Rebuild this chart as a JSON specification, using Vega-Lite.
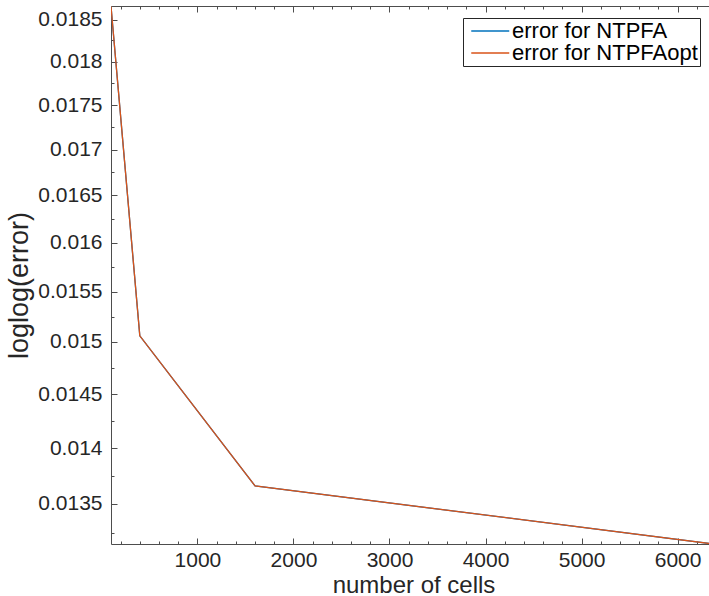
{
  "$schema": "https://vega.github.io/schema/vega-lite/v6.json",
  "autosize": {"type": "none"},
  "padding": {"left": 111, "top": 6, "right": 0, "bottom": 52},
  "width": 605,
  "height": 538,
  "background": "white",
  "config": {
    "view": {"stroke": null},
    "font": "Liberation Sans",
    "axis": {
      "labelFont": "Liberation Sans",
      "titleFont": "Liberation Sans",
      "labelColor": "#262626",
      "titleColor": "#262626",
      "domainColor": "#4d4d4d",
      "tickColor": "#4d4d4d",
      "domainWidth": 1,
      "tickWidth": 1,
      "grid": false,
      "labelFontSize": 21,
      "titleFontWeight": "normal",
      "labelOverlap": false,
      "labelFlush": false,
      "labelBound": false
    }
  },
  "data": {
    "values": [
      {"method": "error for NTPFA", "cells": 100, "error": 0.01866},
      {"method": "error for NTPFA", "cells": 400, "error": 0.01506},
      {"method": "error for NTPFA", "cells": 1600, "error": 0.01366},
      {"method": "error for NTPFA", "cells": 6400, "error": 0.01315},
      {"method": "error for NTPFAopt", "cells": 100, "error": 0.01866},
      {"method": "error for NTPFAopt", "cells": 400, "error": 0.01506},
      {"method": "error for NTPFAopt", "cells": 1600, "error": 0.01366},
      {"method": "error for NTPFAopt", "cells": 6400, "error": 0.01315}
    ]
  },
  "layer": [
    {
      "mark": {"type": "line", "strokeWidth": 1.3, "clip": true},
      "encoding": {
        "x": {
          "field": "cells",
          "type": "quantitative",
          "scale": {"domain": [100, 6400], "nice": false, "zero": false},
          "axis": {
            "orient": "bottom",
            "title": "number of cells",
            "titleFontSize": 24,
            "titlePadding": 0,
            "format": "d",
            "values": [200, 400, 600, 800, 1000, 1200, 1400, 1600, 1800, 2000, 2200, 2400, 2600, 2800, 3000, 3200, 3400, 3600, 3800, 4000, 4200, 4400, 4600, 4800, 5000, 5200, 5400, 5600, 5800, 6000, 6200],
            "labelExpr": "datum.value % 1000 === 0 ? datum.label : ''",
            "tickSize": {"condition": {"test": "datum.value % 1000 === 0", "value": -6}, "value": -3},
            "labelPadding": 11
          }
        },
        "y": {
          "field": "error",
          "type": "quantitative",
          "scale": {"type": "log", "domain": [0.013153, 0.018664], "nice": false, "zero": false},
          "axis": {
            "orient": "left",
            "title": "loglog(error)",
            "titleFontSize": 27,
            "titlePadding": 4,
            "titleY": 279,
            "format": "~g",
            "values": [0.01325, 0.0135, 0.01375, 0.014, 0.01425, 0.0145, 0.01475, 0.015, 0.01525, 0.0155, 0.01575, 0.016, 0.01625, 0.0165, 0.01675, 0.017, 0.01725, 0.0175, 0.01775, 0.018, 0.01825, 0.0185],
            "labelExpr": "round(datum.value * 20000) % 10 === 0 ? datum.label : ''",
            "tickSize": {"condition": {"test": "round(datum.value * 20000) % 10 === 0", "value": -6}, "value": -3},
            "labelPadding": 15
          }
        },
        "color": {
          "field": "method",
          "type": "nominal",
          "scale": {"domain": ["error for NTPFA", "error for NTPFAopt"], "range": ["#0072BD", "#D95319"]},
          "legend": {
            "orient": "none",
            "legendX": 352,
            "legendY": 12,
            "title": null,
            "strokeColor": "#262626",
            "fillColor": "white",
            "padding": 2,
            "symbolType": "M-0.5,0H3.5",
            "symbolSize": 361,
            "symbolStrokeWidth": 1.5,
            "labelFont": "Liberation Sans",
            "labelFontSize": 22,
            "labelLimit": 400,
            "labelColor": "#000000",
            "labelOffset": 25,
            "rowPadding": -8
          }
        }
      }
    },
    {
      "mark": {"type": "line", "opacity": 0},
      "encoding": {
        "x": {
          "field": "cells",
          "type": "quantitative",
          "axis": {
            "orient": "top",
            "title": null,
            "labels": false,
            "values": [200, 400, 600, 800, 1000, 1200, 1400, 1600, 1800, 2000, 2200, 2400, 2600, 2800, 3000, 3200, 3400, 3600, 3800, 4000, 4200, 4400, 4600, 4800, 5000, 5200, 5400, 5600, 5800, 6000, 6200],
            "tickSize": {"condition": {"test": "datum.value % 1000 === 0", "value": -6}, "value": -3}
          }
        },
        "y": {
          "field": "error",
          "type": "quantitative",
          "axis": {
            "orient": "right",
            "title": null,
            "labels": false,
            "values": [0.01325, 0.0135, 0.01375, 0.014, 0.01425, 0.0145, 0.01475, 0.015, 0.01525, 0.0155, 0.01575, 0.016, 0.01625, 0.0165, 0.01675, 0.017, 0.01725, 0.0175, 0.01775, 0.018, 0.01825, 0.0185],
            "tickSize": {"condition": {"test": "round(datum.value * 20000) % 10 === 0", "value": -6}, "value": -3}
          }
        },
        "detail": {"field": "method", "type": "nominal"}
      }
    }
  ],
  "resolve": {"axis": {"x": "independent", "y": "independent"}}
}
